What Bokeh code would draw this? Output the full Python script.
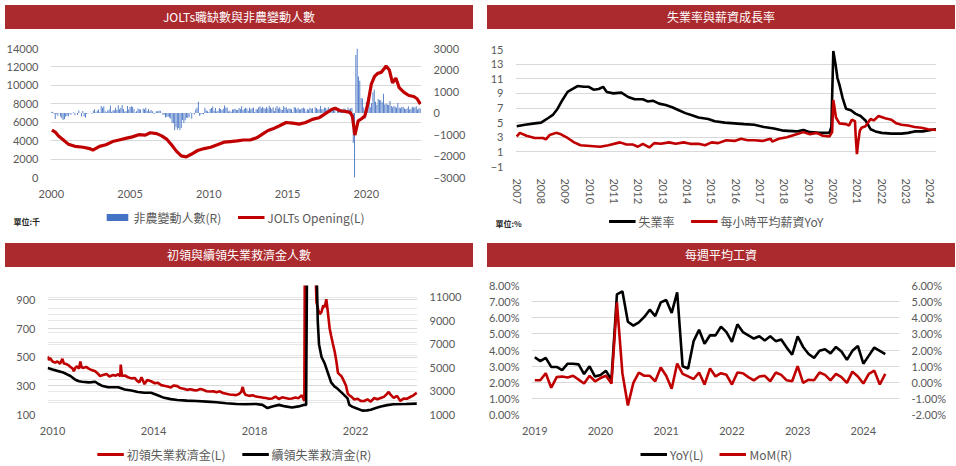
from bokeh.plotting import figure
from bokeh.models import (Range1d, LinearAxis, FixedTicker, Legend, LegendItem, Label,
                          Div, Grid, PrintfTickFormatter)
from bokeh.layouts import column, row
from bokeh.embed import file_html
from bokeh.resources import INLINE

# ---------------- data ----------------
# Panel 1: JOLTs openings (L) and non-farm payroll change (R), thousands
nfp_start_year = 2000.0
nfp_change = [
    40, 60, -30, -280, -40, -130, -10, -160, -240, -320, -290, -170,
    -130, -150, -25, -80, -10, 40, -100, 0, -90, 120, 10, -160,
    90, -160, -210, -50, -10, 0, 10, -40, 100, 180, 40, 110,
    160, 40, 330, 250, 310, 80, 40, 120, 160, 350, 60, 130,
    130, 240, 140, 360, 170, 240, 370, 190, 70, 80, 330, 160,
    280, 310, 280, 180, 20, 80, 210, 180, 160, 0, 210, 170,
    240, 90, 190, 70, 140, 80, -30, -20, 80, 80, 110, 100,
    10, -80, -80, -210, -180, -170, -210, -270, -460, -480, -800, -660,
    -780, -700, -800, -700, -330, -470, -340, -220, -230, -200, 20, -270,
    -20, -70, 160, 250, 520, -130, -70, -30, -60, 250, 130, 80,
    30, 190, 230, 300, 110, 230, 70, 100, 230, 190, 130, 200,
    350, 260, 240, 70, 110, 60, 160, 170, 200, 140, 140, 230,
    190, 310, 140, 200, 250, 210, 110, 250, 180, 220, 260, 50,
    180, 170, 270, 310, 220, 290, 230, 200, 280, 210, 340, 260,
    200, 270, 90, 250, 330, 210, 270, 160, 140, 320, 250, 270,
    160, 210, 200, 170, 40, 270, 260, 170, 250, 160, 180, 220,
    250, 210, 70, 190, 150, 240, 200, 220, 20, 270, 230, 180,
    180, 330, 180, 170, 260, 240, 170, 270, 130, 230, 170, 240,
    270, 1, 190, 200, 60, 180, 160, 210, 180, 130, 260, 180,
    220, 250, -1400, -20500, 2700, 4800, 1700, 1500, 700, 680, 260, -270,
    520, 710, 700, 270, 450, 960, 1090, 520, 380, 650, 600, 590,
    500, 900, 400, 430, 390, 370, 560, 320, 270, 320, 290, 240,
    470, 250, 220, 280, 280, 210, 180, 210, 300, 160, 200, 290,
    260, 270, 310, 160, 220, 210,
]
jolts_year = [
    2000.04, 2000.25, 2000.46, 2000.77, 2001.08, 2001.50, 2002.02, 2002.43, 2002.64, 2003.06,
    2003.47, 2003.89, 2004.30, 2004.72, 2005.14, 2005.55, 2005.97, 2006.28, 2006.69, 2007.01,
    2007.32, 2007.63, 2007.94, 2008.25, 2008.57, 2008.88, 2009.29, 2009.71, 2010.12, 2010.54,
    2010.96, 2011.37, 2011.79, 2012.20, 2012.62, 2013.04, 2013.45, 2013.76, 2014.07, 2014.49,
    2014.91, 2015.32, 2015.74, 2016.15, 2016.57, 2016.99, 2017.40, 2017.82, 2018.02, 2018.34,
    2018.65, 2018.96, 2019.11, 2019.27, 2019.48, 2019.69, 2019.90, 2020.10, 2020.31, 2020.52,
    2020.73, 2020.94, 2021.14, 2021.25, 2021.46, 2021.66, 2021.87, 2022.08, 2022.39, 2022.70,
    2023.01, 2023.22, 2023.43,
]
jolts_open = [
    5150, 4930, 4500, 4070, 3620, 3380, 3280, 3140, 2970, 3380,
    3550, 3900, 4070, 4240, 4410, 4650, 4600, 4860, 4760, 4520,
    4170, 3550, 2860, 2340, 2240, 2520, 2930, 3140, 3280, 3550,
    3830, 3900, 3970, 4070, 4070, 4310, 4760, 5100, 5280, 5620,
    5970, 5900, 5790, 5970, 6310, 6480, 6930, 7410, 7520, 7240,
    7170, 7070, 6660, 4600, 6140, 6380, 6660, 8030, 10100, 10970,
    11310, 11410, 11830, 12100, 11660, 10280, 10790, 9760, 9240, 8900,
    8790, 8550, 7970,
]
p1_year_ticks = [2000, 2005, 2010, 2015, 2020]
p1_left_ticks = [0, 2000, 4000, 6000, 8000, 10000, 12000, 14000]
p1_right_ticks = [-3000, -2000, -1000, 0, 1000, 2000, 3000]

# Panel 2: unemployment rate and average hourly earnings YoY, %
unemp_year = [
    2007.00, 2007.34, 2007.74, 2008.00, 2008.28, 2008.50, 2008.68, 2008.88, 2009.09, 2009.30,
    2009.50, 2009.76, 2009.96, 2010.16, 2010.37, 2010.55, 2010.70, 2010.97, 2011.30, 2011.58,
    2011.85, 2012.18, 2012.38, 2012.59, 2012.85, 2013.12, 2013.39, 2013.66, 2013.93, 2014.20,
    2014.47, 2014.87, 2015.14, 2015.55, 2015.95, 2016.35, 2016.76, 2017.16, 2017.57, 2017.97,
    2018.50, 2018.78, 2019.05, 2019.45, 2019.85, 2019.93, 2020.01, 2020.10, 2020.18, 2020.26,
    2020.39, 2020.53, 2020.73, 2020.93, 2021.13, 2021.33, 2021.54, 2021.74, 2022.00, 2022.40,
    2022.81, 2023.08, 2023.35, 2023.69, 2024.02, 2024.23,
]
unemp_rate = [
    4.5, 4.7, 4.9, 5.0, 5.6, 6.1, 6.9, 8.1, 9.2, 9.6,
    10.0, 9.9, 9.9, 9.5, 9.6, 9.9, 9.2, 9.0, 9.1, 8.5,
    8.2, 8.2, 7.9, 8.0, 7.6, 7.4, 7.1, 6.7, 6.3, 6.0,
    5.7, 5.5, 5.2, 5.0, 4.9, 4.8, 4.7, 4.4, 4.2, 3.9,
    3.8, 4.0, 3.7, 3.6, 3.6, 4.4, 14.8, 13.0, 11.1, 10.2,
    8.4, 6.9, 6.7, 6.2, 5.9, 5.3, 4.1, 3.8, 3.6, 3.5,
    3.5, 3.6, 3.8, 3.8, 4.0, 4.1,
]
wage_year = [
    2007.00, 2007.13, 2007.40, 2007.74, 2008.08, 2008.20, 2008.35, 2008.62, 2008.82, 2009.09,
    2009.36, 2009.62, 2010.03, 2010.43, 2010.77, 2011.24, 2011.51, 2011.78, 2011.98, 2012.18,
    2012.45, 2012.65, 2012.92, 2013.26, 2013.53, 2013.86, 2014.13, 2014.47, 2014.74, 2015.01,
    2015.28, 2015.61, 2015.95, 2016.22, 2016.49, 2016.76, 2017.10, 2017.43, 2017.50, 2017.77,
    2018.10, 2018.50, 2018.78, 2019.05, 2019.32, 2019.58, 2019.85, 2019.96, 2020.01, 2020.12,
    2020.26, 2020.53, 2020.66, 2020.77, 2020.90, 2020.93, 2020.98, 2021.03, 2021.10, 2021.17,
    2021.33, 2021.54, 2021.67, 2021.87, 2022.14, 2022.40, 2022.60, 2022.81, 2023.08, 2023.35,
    2023.63, 2023.90, 2024.23,
]
wage_yoy = [
    3.1, 3.6, 3.2, 2.9, 2.9, 2.7, 3.3, 3.6, 3.4, 2.9,
    2.3, 1.9, 1.8, 1.7, 1.9, 2.3, 2.0, 2.0, 1.7, 2.1,
    1.6, 2.2, 2.1, 2.3, 2.1, 2.3, 2.1, 2.1, 1.9, 2.3,
    2.2, 2.6, 2.5, 2.8, 2.6, 2.6, 2.5, 2.8, 2.4, 2.8,
    3.0, 3.4, 3.7, 3.4, 3.6, 3.2, 3.1, 3.7, 8.1, 5.7,
    4.9, 4.8, 4.6, 5.4, 5.2, 3.1, 0.7, 2.3, 3.9, 4.3,
    4.5, 5.5, 5.3, 5.9, 5.6, 5.4, 4.9, 4.7, 4.6, 4.4,
    4.3, 4.1, 4.0,
]
p2_year_ticks = list(range(2007, 2025))
p2_ticks = [-1, 1, 3, 5, 7, 9, 11, 13, 15]

# Panel 3: initial claims (L, thousands) and continuing claims (R, thousands)
init_year = [
    2009.81, 2009.85, 2009.90, 2010.00, 2010.10, 2010.19, 2010.30, 2010.39, 2010.45, 2010.52,
    2010.62, 2010.71, 2010.80, 2010.84, 2010.92, 2010.97, 2011.05, 2011.10, 2011.15, 2011.23,
    2011.33, 2011.43, 2011.55, 2011.69, 2011.80, 2011.88, 2012.00, 2012.14, 2012.25, 2012.40,
    2012.50, 2012.60, 2012.68, 2012.70, 2012.75, 2012.86, 2012.99, 2013.12, 2013.25, 2013.35,
    2013.44, 2013.52, 2013.57, 2013.64, 2013.75, 2013.90, 2014.05, 2014.16, 2014.30, 2014.42,
    2014.55, 2014.68, 2014.80, 2014.94, 2015.05, 2015.19, 2015.32, 2015.45, 2015.60, 2015.71,
    2015.85, 2015.97, 2016.10, 2016.23, 2016.36, 2016.49, 2016.62, 2016.75, 2016.88, 2017.01,
    2017.14, 2017.27, 2017.40, 2017.47, 2017.53, 2017.58, 2017.64, 2017.78, 2017.92, 2018.05,
    2018.18, 2018.31, 2018.44, 2018.57, 2018.70, 2018.83, 2018.96, 2019.09, 2019.22, 2019.35,
    2019.48, 2019.61, 2019.74, 2019.87, 2019.97, 2020.02, 2020.06, 2020.12, 2020.20, 2020.30,
    2020.42, 2020.45, 2020.52, 2020.58, 2020.65, 2020.72, 2020.78, 2020.84, 2020.90, 2020.97,
    2021.03, 2021.10, 2021.17, 2021.23, 2021.30, 2021.36, 2021.43, 2021.49, 2021.56, 2021.62,
    2021.69, 2021.75, 2021.82, 2021.95, 2022.08, 2022.20, 2022.34, 2022.47, 2022.60, 2022.73,
    2022.86, 2022.99, 2023.12, 2023.22, 2023.31, 2023.40, 2023.51, 2023.64, 2023.77, 2023.90,
    2024.03, 2024.16, 2024.29, 2024.42,
]
init_claims = [
    505, 480, 495, 470, 462, 470, 455, 488, 455, 454,
    445, 432, 420, 402, 430, 436, 420, 470, 430, 425,
    432, 420, 410, 402, 385, 368, 375, 382, 365, 375,
    370, 382, 365, 448, 368, 372, 360, 352, 355, 335,
    324, 360, 340, 312, 340, 332, 318, 322, 305, 300,
    295, 288, 303, 298, 285, 280, 272, 276, 270, 268,
    278, 272, 262, 260, 262, 255, 262, 250, 245, 240,
    238, 235, 245, 258, 292, 255, 238, 230, 235, 225,
    222, 218, 215, 210, 212, 225, 208, 220, 215, 210,
    212, 218, 214, 235, 195, 2900, 6100, 4400, 3000, 1800,
    1050, 884, 830, 800, 816, 861, 850, 904, 816, 702,
    650, 593, 540, 480, 391, 380, 369, 350, 324, 300,
    245, 235, 225, 205, 210, 195, 194, 205, 190, 215,
    207, 215, 223, 240, 257, 235, 216, 230, 194, 212,
    210, 222, 234, 252,
]
cont_year = [
    2009.81, 2010.00, 2010.19, 2010.39, 2010.55, 2010.71, 2010.90, 2011.05, 2011.17, 2011.43,
    2011.55, 2011.69, 2011.82, 2011.95, 2012.20, 2012.40, 2012.60, 2012.86, 2013.12, 2013.38,
    2013.64, 2013.90, 2014.16, 2014.42, 2014.68, 2014.94, 2015.32, 2015.71, 2016.10, 2016.49,
    2016.88, 2017.27, 2017.66, 2018.05, 2018.31, 2018.51, 2018.70, 2018.96, 2019.22, 2019.48,
    2019.74, 2019.94, 2020.04, 2020.08, 2020.20, 2020.33, 2020.46, 2020.50, 2020.55, 2020.65,
    2020.77, 2020.90, 2021.03, 2021.16, 2021.29, 2021.49, 2021.62, 2021.68, 2021.75, 2021.88,
    2022.00, 2022.27, 2022.45, 2022.60, 2022.80, 2023.00, 2023.25, 2023.50, 2024.00, 2024.42,
]
cont_claims = [
    4970, 4830, 4720, 4610, 4450, 4280, 3960, 3830, 3790, 3740,
    3760, 3790, 3600, 3460, 3330, 3320, 3320, 3130, 3050, 2920,
    2860, 2860, 2640, 2420, 2310, 2230, 2180, 2150, 2100, 2040,
    1960, 1900, 1880, 1900, 1820, 1550, 1690, 1820, 1690, 1600,
    1690, 1820, 1820, 15000, 23000, 18000, 13000, 9000, 7000, 5900,
    5380, 4560, 3740, 3400, 3190, 2780, 2500, 2370, 1820, 1650,
    1550, 1330, 1350, 1410, 1550, 1680, 1800, 1880, 1900, 1930,
]
p3_year_ticks = [2010, 2014, 2018, 2022]
p3_left_ticks = [100, 300, 500, 700, 900]
p3_left_minor = [200, 400, 600, 800, 1000]
p3_right_ticks = [1000, 3000, 5000, 7000, 9000, 11000]
p3_right_grid = [1000, 2000, 3000, 4000, 5000, 6000, 7000, 8000, 9000, 10000, 11000, 12000]

# Panel 4: average weekly earnings, % (monthly from Jan 2019)
wk_start_year = 2019.0
wk_yoy = [
    3.55, 3.31, 3.51, 2.95, 2.95, 2.75, 3.15, 3.15, 3.11, 2.51, 2.99, 2.35,
    2.45, 2.71, 2.15, 7.45, 7.64, 5.75, 5.51, 5.71, 6.05, 6.50, 6.10, 6.95,
    7.10, 6.30, 7.58, 2.99, 2.85, 4.55, 5.25, 4.39, 4.91, 4.91, 5.45, 5.11,
    4.51, 5.59, 5.11, 4.91, 4.71, 4.85, 4.59, 4.85, 4.55, 4.65, 4.15, 3.71,
    4.85, 4.19, 3.75, 3.51, 3.95, 4.05, 3.79, 4.19, 3.91, 3.39, 3.95, 4.25,
    3.15, 3.65, 4.15, 3.95, 3.75,
]
wk_mom = [
    0.12, 0.12, 0.56, -0.34, 0.32, 0.36, 0.30, 0.40, 0.16, -0.08, 0.40, 0.06,
    0.26, 0.40, -0.08, 4.95, 0.56, -1.44, -0.04, 0.60, 0.40, 0.40, 0.06, 0.92,
    0.40, -0.40, 1.16, 0.52, 0.36, 0.20, 0.60, -0.14, 0.86, 0.36, 0.56, 0.46,
    -0.14, 0.60, 0.56, 0.32, 0.12, 0.36, 0.40, 0.06, 0.60, 0.46, 0.12, 0.06,
    1.00, -0.04, 0.16, 0.12, 0.60, 0.46, 0.12, 0.52, 0.32, -0.04, 0.66, 0.36,
    -0.08, 0.52, 0.72, -0.14, 0.52,
]
p4_year_ticks = [2019, 2020, 2021, 2022, 2023, 2024]
p4_left_ticks = [0, 1, 2, 3, 4, 5, 6, 7, 8]
p4_right_ticks = [-2, -1, 0, 1, 2, 3, 4, 5, 6]

# ---------------- styling ----------------
TITLE_BG = "#AB2A2E"
RED = "#C00000"
BLUE = "#4472C4"
GRID = "#d9d9d9"
GRID_LIGHT = "#e8e8e8"
TICK = "#595959"
NUM_FONT = "Lato"
CJK = "Noto Sans CJK TC"
W = 468
NAN = float("nan")   # legend swatch source: nothing is drawn in the plot area


def title_div(text):
    return Div(text=text, width=W, height=24,
               styles={"background-color": TITLE_BG, "color": "#ffffff",
                       "text-align": "center", "font-size": "12px",
                       "line-height": "24px", "font-family": "'Noto Sans CJK TC'"})


def style_axis(ax, size="11px"):
    ax.axis_line_color = None
    ax.major_tick_line_color = None
    ax.minor_tick_line_color = None
    ax.major_label_text_color = TICK
    ax.major_label_text_font = NUM_FONT
    ax.major_label_text_font_size = size
    ax.major_label_standoff = 6


def make_fig(h, xr, yr, lb, rb, tb, bb):
    p = figure(width=W, height=h, x_range=xr, y_range=yr, output_backend="svg",
               toolbar_location=None, min_border_left=lb, min_border_right=rb,
               min_border_top=tb, min_border_bottom=bb)
    p.frame_align = False
    p.outline_line_color = None
    p.background_fill_color = "white"
    p.border_fill_color = "white"
    p.xgrid.grid_line_color = None
    p.ygrid.grid_line_color = GRID
    style_axis(p.xaxis[0])
    style_axis(p.yaxis[0])
    return p


def legend_fig(h, specs, unit=None, unit_y=0):
    q = figure(width=W, height=h, x_range=Range1d(0, 1), y_range=Range1d(0, 1),
               output_backend="svg", toolbar_location=None,
               x_axis_location=None, y_axis_location=None, min_border=0,
               min_border_left=0, min_border_right=0, min_border_top=0, min_border_bottom=0)
    q.frame_align = False
    q.outline_line_color = None
    q.background_fill_color = "white"
    q.border_fill_color = "white"
    q.grid.grid_line_color = None
    items = []
    for label, kind, color in specs:
        if kind == "bar":
            r = q.vbar(x=[NAN], top=[NAN], width=0.1, fill_color=color, line_color=None)
        else:
            r = q.line(x=[NAN], y=[NAN], line_color=color, line_width=3.2)
        items.append(LegendItem(label=label, renderers=[r]))
    q.add_layout(Legend(items=items, orientation="horizontal", location="center",
                        border_line_color=None, background_fill_alpha=0,
                        label_text_font=CJK, label_text_font_size="12px",
                        label_text_color=TICK, glyph_width=27, glyph_height=9,
                        padding=0, margin=0, spacing=16, label_standoff=3))
    if unit:
        q.add_layout(Label(x=13, y=unit_y, x_units="screen", y_units="screen", text=unit,
                           text_font=CJK, text_font_size="8px", text_font_style="bold",
                           text_color="#262626", text_baseline="middle"))
    return q


# ---------------- panel 1 ----------------
p1 = make_fig(166, Range1d(1999.95, 2023.5), Range1d(0, 14000), 50, 47, 14, 21)
p1.extra_y_ranges = {"r": Range1d(-3000, 3000)}
p1.xaxis.ticker = FixedTicker(ticks=p1_year_ticks)
p1.yaxis.ticker = FixedTicker(ticks=p1_left_ticks)
ax1r = LinearAxis(y_range_name="r", ticker=FixedTicker(ticks=p1_right_ticks))
style_axis(ax1r)
p1.add_layout(ax1r, "right")
nfp_x = [nfp_start_year + i / 12 for i in range(len(nfp_change))]
p1.vbar(x=nfp_x, top=nfp_change, bottom=0, width=0.055, y_range_name="r",
        fill_color=BLUE, line_color=None)
p1.line(jolts_year, jolts_open, line_color=RED, line_width=3.2)
l1 = legend_fig(34, [("非農變動人數(R)", "bar", BLUE), ("JOLTs Opening(L)", "line", RED)],
                "單位:千", 13)

# ---------------- panel 2 ----------------
p2 = make_fig(173, Range1d(2006.95, 2024.25), Range1d(-1, 15), 33, 14, 15, 29)
p2.xaxis.ticker = FixedTicker(ticks=p2_year_ticks)
p2.xaxis.major_label_orientation = "vertical"
p2.yaxis.ticker = FixedTicker(ticks=p2_ticks)
p2.line(unemp_year, unemp_rate, line_color="black", line_width=2.6)
p2.line(wage_year, wage_yoy, line_color=RED, line_width=2.6)
l2 = legend_fig(27, [("失業率", "line", "black"), ("每小時平均薪資YoY", "line", RED)],
                "單位:%", 11)

# ---------------- panel 3 ----------------
p3 = make_fig(165, Range1d(2009.8, 2024.45), Range1d(100, 1000), 47, 51, 13, 22)
p3.extra_y_ranges = {"r": Range1d(1000, 12000)}
p3.xaxis.ticker = FixedTicker(ticks=p3_year_ticks)
p3.yaxis.ticker = FixedTicker(ticks=p3_left_ticks, minor_ticks=p3_left_minor)
p3.ygrid.minor_grid_line_color = GRID_LIGHT
p3.add_layout(Grid(dimension=1, ticker=FixedTicker(ticks=p3_right_grid), y_range_name="r",
                   grid_line_color=GRID_LIGHT))
ax3r = LinearAxis(y_range_name="r", ticker=FixedTicker(ticks=p3_right_ticks))
style_axis(ax3r)
p3.add_layout(ax3r, "right")
p3.line(init_year, init_claims, line_color=RED, line_width=2.6)
p3.line(cont_year, cont_claims, line_color="black", line_width=2.6, y_range_name="r")
l3 = legend_fig(33, [("初領失業救濟金(L)", "line", RED), ("續領失業救濟金(R)", "line", "black")])

# ---------------- panel 4 ----------------
p4 = make_fig(165, Range1d(2018.95, 2024.55), Range1d(0, 8), 49, 51, 13, 22)
p4.extra_y_ranges = {"r": Range1d(-2, 6)}
p4.xaxis.ticker = FixedTicker(ticks=p4_year_ticks)
p4.yaxis.ticker = FixedTicker(ticks=p4_left_ticks)
p4.yaxis.formatter = PrintfTickFormatter(format="%.2f%%")
ax4r = LinearAxis(y_range_name="r", ticker=FixedTicker(ticks=p4_right_ticks),
                  formatter=PrintfTickFormatter(format="%.2f%%"))
style_axis(ax4r)
p4.add_layout(ax4r, "right")
wk_x = [wk_start_year + i / 12 for i in range(len(wk_yoy))]
p4.line(wk_x, wk_yoy, line_color="black", line_width=2.6)
p4.line(wk_x, wk_mom, line_color=RED, line_width=2.6, y_range_name="r")
l4 = legend_fig(33, [("YoY(L)", "line", "black"), ("MoM(R)", "line", RED)])

layout = column(
    row(column(title_div("JOLTs職缺數與非農變動人數"), p1, l1, spacing=0),
        column(title_div("失業率與薪資成長率"), p2, l2, spacing=0), spacing=4),
    row(column(title_div("初領與續領失業救濟金人數"), p3, l3, spacing=0),
        column(title_div("每週平均工資"), p4, l4, spacing=0), spacing=4),
    spacing=4,
)

open("out.html", "w").write(file_html(layout, INLINE))
